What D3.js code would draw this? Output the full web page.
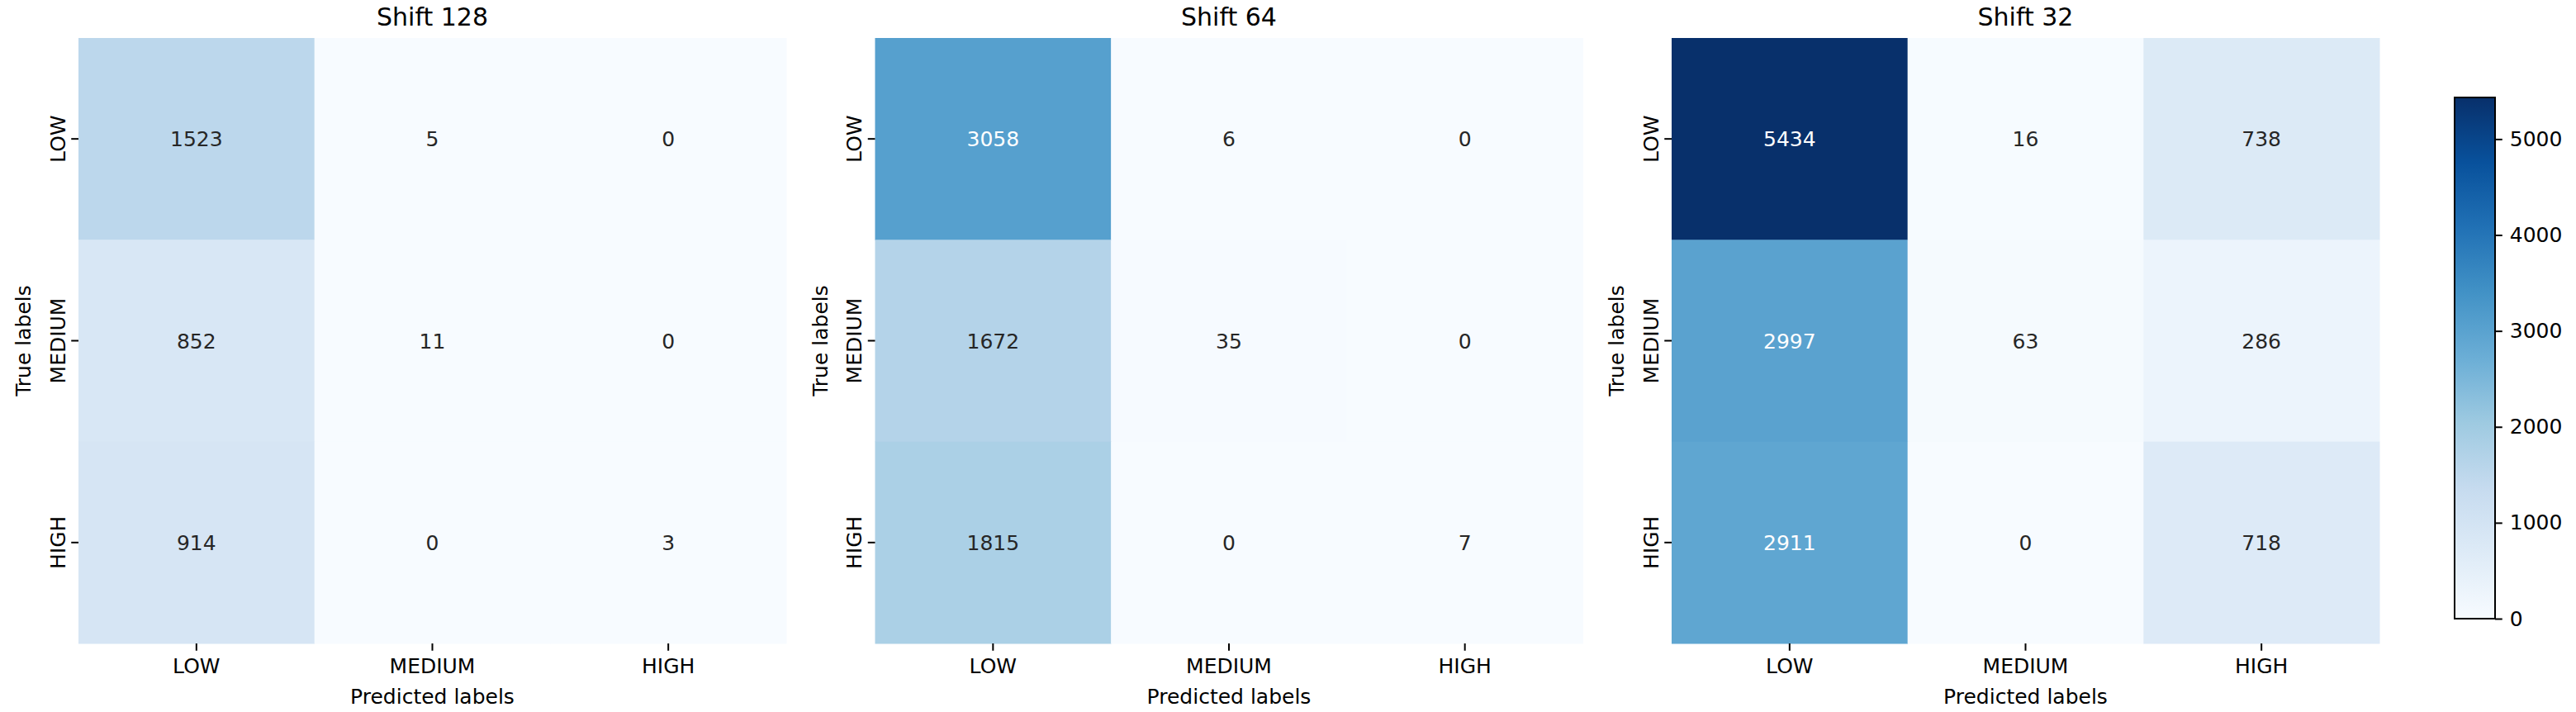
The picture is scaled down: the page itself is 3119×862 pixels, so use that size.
<!DOCTYPE html>
<html>
<head>
<meta charset="utf-8">
<script src="https://cdn.jsdelivr.net/npm/d3@7"></script>
<style>
  body { margin: 0; background: #fff; }
  svg text { font-family: "DejaVu Sans", sans-serif; }
</style>
</head>
<body>
<div id="chart"></div>
<script>
const labels = ['LOW', 'MEDIUM', 'HIGH'];
const titles = ['Shift 128', 'Shift 64', 'Shift 32'];
const shift128 = [[1523, 5, 0], [852, 11, 0], [914, 0, 3]];
const shift64 = [[3058, 6, 0], [1672, 35, 0], [1815, 0, 7]];
const shift32 = [[5434, 16, 738], [2997, 63, 286], [2911, 0, 718]];
const colorbarTicks = [0, 1000, 2000, 3000, 4000, 5000];
const vmax = 5434;

const matrices = [shift128, shift64, shift32];

// matplotlib "Blues" colormap (linear through the 9 colorbrewer stops)
const bluesStops = ['#f7fbff', '#deebf7', '#c6dbef', '#9ecae1', '#6baed6', '#4292c6', '#2171b5', '#08519c', '#08306b'];
const color = d3.scaleLinear()
  .domain(bluesStops.map((d, i) => i / (bluesStops.length - 1) * vmax))
  .range(bluesStops)
  .interpolate(d3.interpolateRgb)
  .clamp(true);

// seaborn picks annotation colour from luminance
function luminance(c) {
  const rgb = d3.rgb(c);
  const f = v => {
    v = v / 255;
    return v <= 0.03928 ? v / 12.92 : Math.pow((v + 0.055) / 1.055, 2.4);
  };
  return 0.2126 * f(rgb.r) + 0.7152 * f(rgb.g) + 0.0722 * f(rgb.b);
}

const W = 3119, H = 862;
const svg = d3.select('#chart').append('svg')
  .attr('width', W)
  .attr('height', H);

const panelLefts = [95, 1059.5, 2024];
const panelW = 857;
const plotTop = 46, plotBottom = 779;
const fs = 25;

matrices.forEach((m, pi) => {
  const g = svg.append('g').attr('transform', `translate(${panelLefts[pi]},0)`);

  const x = d3.scaleBand().domain(labels).range([0, panelW]);
  const y = d3.scaleBand().domain(labels).range([plotTop, plotBottom]);

  const cells = [];
  m.forEach((row, ri) => row.forEach((v, ci) => cells.push({ r: labels[ri], c: labels[ci], v })));

  g.selectAll('rect.cell')
    .data(cells)
    .join('rect')
    .attr('class', 'cell')
    .attr('x', d => x(d.c))
    .attr('y', d => y(d.r))
    .attr('width', x.bandwidth() + 0.5)
    .attr('height', y.bandwidth() + 0.5)
    .attr('fill', d => color(d.v));

  g.selectAll('text.annot')
    .data(cells)
    .join('text')
    .attr('class', 'annot')
    .attr('x', d => x(d.c) + x.bandwidth() / 2)
    .attr('y', d => y(d.r) + y.bandwidth() / 2)
    .attr('text-anchor', 'middle')
    .attr('dy', '0.36em')
    .attr('font-size', fs)
    .attr('fill', d => luminance(color(d.v)) > 0.408 ? '#262626' : '#ffffff')
    .text(d => d.v);

  // x axis
  const xAxis = g.append('g')
    .attr('transform', `translate(0,${plotBottom})`)
    .call(d3.axisBottom(x).tickSize(8.75).tickPadding(9));
  xAxis.select('.domain').remove();
  xAxis.selectAll('line').attr('stroke', '#000').attr('stroke-width', 2);
  xAxis.selectAll('text').attr('font-size', fs).attr('fill', '#000')
    .attr('font-family', '"DejaVu Sans", sans-serif');

  // y axis, labels rotated
  const yAxis = g.append('g')
    .call(d3.axisLeft(y).tickSize(8.75).tickPadding(9));
  yAxis.select('.domain').remove();
  yAxis.selectAll('line').attr('stroke', '#000').attr('stroke-width', 2);
  yAxis.selectAll('text')
    .attr('font-size', fs)
    .attr('fill', '#000')
    .attr('font-family', '"DejaVu Sans", sans-serif')
    .attr('x', null).attr('dy', null)
    .attr('text-anchor', 'middle')
    .attr('transform', 'translate(-16.5,0) rotate(-90)');

  g.append('text')
    .attr('x', panelW / 2)
    .attr('y', 31)
    .attr('text-anchor', 'middle')
    .attr('font-size', 30)
    .attr('fill', '#000')
    .text(titles[pi]);

  g.append('text')
    .attr('x', panelW / 2)
    .attr('y', 852)
    .attr('text-anchor', 'middle')
    .attr('font-size', fs)
    .attr('fill', '#000')
    .text('Predicted labels');

  g.append('text')
    .attr('transform', `translate(-58,${(plotTop + plotBottom) / 2}) rotate(-90)`)
    .attr('text-anchor', 'middle')
    .attr('font-size', fs)
    .attr('fill', '#000')
    .text('True labels');
});

// colorbar
const cbX = 2972, cbW = 49, cbTop = 118, cbBottom = 749;
const cbScale = d3.scaleLinear().domain([0, vmax]).range([cbBottom, cbTop]);

const grad = svg.append('defs').append('linearGradient')
  .attr('id', 'blues')
  .attr('x1', 0).attr('y1', 1).attr('x2', 0).attr('y2', 0);
grad.selectAll('stop')
  .data(bluesStops)
  .join('stop')
  .attr('offset', (d, i) => i / (bluesStops.length - 1))
  .attr('stop-color', d => d);

svg.append('rect')
  .attr('x', cbX)
  .attr('y', cbTop)
  .attr('width', cbW)
  .attr('height', cbBottom - cbTop)
  .attr('fill', 'url(#blues)')
  .attr('stroke', '#000')
  .attr('stroke-width', 2);

const cbAxis = svg.append('g')
  .attr('transform', `translate(${cbX + cbW},0)`)
  .call(d3.axisRight(cbScale).tickValues(colorbarTicks).tickFormat(d3.format('d')).tickSize(8.75).tickPadding(9));
cbAxis.select('.domain').remove();
cbAxis.selectAll('line').attr('stroke', '#000').attr('stroke-width', 2);
cbAxis.selectAll('text').attr('font-size', fs).attr('fill', '#000')
  .attr('font-family', '"DejaVu Sans", sans-serif');
</script>
</body>
</html>
